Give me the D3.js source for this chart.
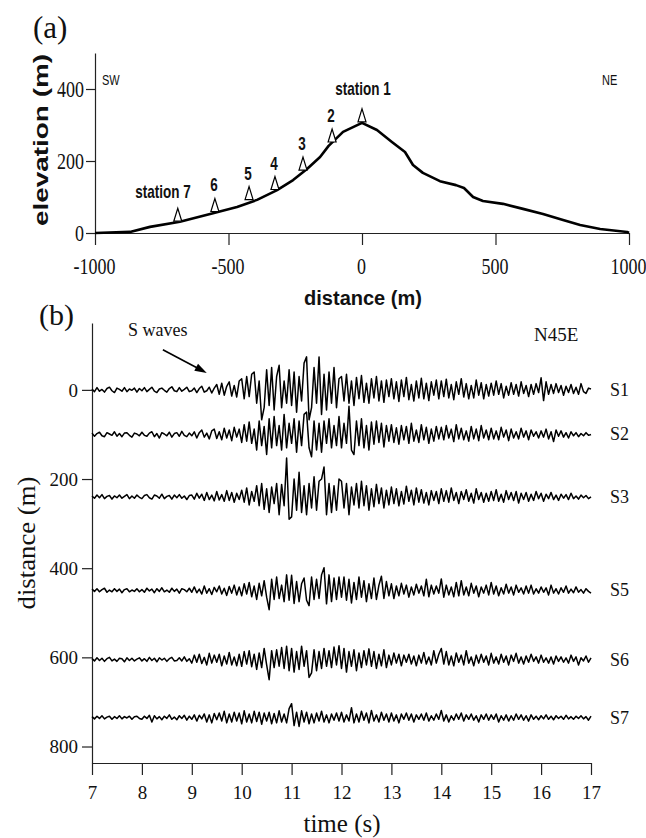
<!DOCTYPE html>
<html><head><meta charset="utf-8">
<script src="https://cdn.jsdelivr.net/npm/d3@7"></script>
<style>body{margin:0;background:#fff} svg{display:block}</style>
</head><body><svg id="c" width="646" height="838"></svg>
<script>
// ---------- panel (a): topographic profile ----------
const profileDist = [-1000,-869,-794,-682,-558,-468,-393,-318,-258,-206,-157,-125,-71,0,56,112,161,191,228,292,352,382,416,453,528,603,678,753,817,892,993,1000];
const profileElev = [0,3,17,31,55,72,92,119,147,178,211,242,281,306,286,253,225,189,167,144,133,125,100,89,81,67,53,36,22,11,3,0];
const stationNames = ["station 1","2","3","4","5","6","station 7"];
const stationDist = [0,-112,-221,-326,-423,-551,-690];
const stationElev = [306,250,172,118,90,57,30];
const elevTicks = [0,200,400];
const distTicks = [-1000,-500,0,500,1000];

// ---------- panel (b): seismograms (N45E) ----------
const traceNames = ["S1","S2","S3","S5","S6","S7"];
const traceOffsets = [0,100,240,450,605,735];
const timeStart = 7, timeStep = 0.05;
const timeTicks = [7,8,9,10,11,12,13,14,15,16,17];
const offsetTicks = [0,200,400,600,800];

const s1 = [2,-4,5,-3,1,-5,3,6,-2,-6,4,1,-3,5,-4,2,-1,4,-5,3,
 -2,5,-4,1,6,-3,-6,2,4,-1,-5,3,7,-2,-4,5,-3,1,6,-4,
 -2,4,-6,3,8,-5,-2,6,-7,4,12,-10,15,-12,8,18,-14,10,-16,20,
 25,-20,30,-15,35,40,-30,20,-67,-40,45,-35,50,-45,30,55,-40,20,-30,45,
 -35,40,-50,30,-25,60,74,-67,-40,50,-30,74,-55,35,-45,40,-30,50,-40,25,
 30,-25,35,-30,20,-35,28,-20,32,-28,15,-30,25,-18,30,-25,20,-28,22,-15,
 25,-20,18,-26,22,-15,28,-22,12,-25,20,-18,26,-20,15,-24,18,-12,22,-20,
 20,-15,24,-18,12,-22,18,-10,25,-16,14,-20,10,-18,22,-12,16,-20,12,-14,
 15,-12,20,-10,14,-18,8,-12,16,-10,12,-14,18,-8,10,-15,12,-10,14,-6,
 27,-24,18,-10,12,-8,14,-6,10,-12,8,-6,12,-8,6,-10,14,-4,-8,4,
 2];
const s2 = [3,-4,2,5,-3,-5,4,1,-2,6,-4,2,-5,3,4,-2,-6,3,1,-3,
 5,-2,-4,3,6,-5,2,-8,4,1,-3,5,-6,2,4,-4,7,-2,-5,3,
 -3,6,-8,4,10,-6,3,-10,8,12,-9,6,-12,14,-8,10,-14,16,-6,12,
 -18,22,-15,28,-20,12,-35,30,-25,18,-45,35,-30,40,-25,20,-35,45,-30,25,
 -20,35,-40,30,-25,45,50,-30,-50,30,-35,25,-40,30,-20,35,-30,20,-25,40,
 -30,25,-20,63,-35,-45,30,-25,35,-30,20,-35,28,-22,30,-18,25,-28,20,-15,
 22,-18,15,-22,20,-12,18,-20,25,-15,10,-18,22,-12,16,-20,12,-15,18,-10,
 16,-12,20,-8,12,-16,22,-10,14,-12,8,-15,18,-10,12,-14,20,-8,10,-12,
 14,-10,8,-12,16,-6,10,-14,12,-8,6,-10,14,-6,8,-12,10,-4,6,-8,
 8,-6,12,-10,6,-16,10,-4,8,-6,4,-8,6,-3,4,-5,2,-3,4,-2,
 0];
const s3 = [2,-3,4,-2,5,-4,1,3,-5,2,-2,4,-3,1,5,-4,2,-3,4,-1,
 -4,3,5,-2,-5,4,2,-3,6,-4,1,3,-5,4,-2,5,-3,2,-6,3,
 4,-5,8,-3,6,-8,10,-6,4,-9,12,-7,5,-10,14,-8,10,-12,8,-6,
 15,-12,20,-18,12,-10,25,-20,30,-28,18,-35,22,-15,30,-40,28,-20,87,-50,
 -45,40,-30,55,-35,25,-40,30,-25,45,-30,35,40,67,-40,30,-35,25,-30,40,
 35,-25,30,-40,22,-18,30,-25,35,-20,25,-30,18,-22,28,-15,20,-25,15,-18,
 22,-15,18,-20,12,-16,24,-10,15,-18,20,-12,16,-14,10,-18,14,-8,12,-15,
 18,-10,14,-12,20,-8,10,-15,12,-6,16,-10,8,-14,18,-6,10,-12,8,-10,
 12,-8,16,-10,6,-12,14,-6,10,-8,12,-14,8,-6,10,-10,6,-8,12,-4,
 8,-10,6,-4,10,-6,4,-8,6,-3,5,-6,8,-4,2,-5,4,-2,3,-4,
 0];
const s5 = [3,-2,4,-3,2,5,-4,1,-3,4,-2,3,-5,2,4,-3,1,-2,4,-3,
 2,-4,5,-1,3,-5,4,-2,6,-3,1,-4,5,-2,3,-6,4,2,-3,5,
 -4,8,-5,3,-8,10,-6,4,-9,7,-3,10,-8,5,-11,9,-6,12,-10,8,
 -12,15,-8,18,-14,10,-20,16,-12,22,-15,-43,25,-20,30,-18,12,-25,35,-22,
 34,-29,20,-25,15,28,-22,-34,30,-20,25,-18,35,51,-30,35,-25,28,-20,30,
 -15,30,-22,25,-28,18,-20,30,-15,22,-25,15,-18,28,-20,12,32,-18,20,-12,
 15,-18,10,-12,16,-8,12,-15,8,-10,14,-6,10,-12,25,-14,12,-8,10,-6,
 26,-15,12,-10,8,-14,18,-12,22,-10,8,-12,16,-6,10,-14,8,-6,12,-10,
 18,-8,10,-12,6,-8,14,-6,8,-10,12,-4,6,-8,10,-6,12,-8,4,-6,
 8,-4,6,-10,12,-6,4,-8,6,-4,10,-6,3,-5,8,-4,2,-6,4,-2,
 -6];
const s6 = [2,-3,4,-2,3,-4,2,5,-3,1,-4,3,2,-5,4,-2,3,-3,1,4,
 -3,2,-4,5,-2,3,-5,4,-1,3,-4,2,5,-3,-2,4,-3,6,-4,2,
 -8,10,-6,12,-9,5,-12,14,-8,10,-6,12,-14,8,-10,16,-12,6,-14,12,
 -15,18,-10,20,-16,12,-22,15,-18,25,-12,-45,20,-18,22,-15,27,-20,30,-25,
 25,-28,18,-22,30,-15,20,-40,-30,22,-25,18,-20,25,-15,20,-18,28,-12,31,
 -20,25,-28,18,-15,22,-25,15,-18,20,-12,24,-15,18,-20,12,-14,22,-18,10,
 -12,15,-8,12,-14,10,-6,12,-10,8,-14,10,-8,16,-10,6,-12,20,-8,12,
 25,-10,18,-12,8,-14,15,-6,10,-12,20,-8,6,-14,10,-8,12,-6,8,-12,
 14,-8,6,-10,12,-6,8,-12,10,-4,14,-8,6,-10,8,-6,12,-4,6,-8,
 10,-6,4,-8,6,-10,8,-4,6,-6,4,-8,10,-4,6,-12,4,-3,8,-6,
 4];
const s7 = [2,-3,3,-2,4,-3,1,3,-4,2,-2,4,-3,2,-1,3,-4,2,3,-2,
 -4,3,-2,5,-10,4,-3,2,-5,3,-2,6,-4,1,-5,4,-2,5,-6,3,
 -4,6,-8,5,-3,8,-10,6,-12,9,-5,10,-8,14,-12,8,-10,12,-8,10,
 -14,15,-10,8,-12,14,-9,12,-15,10,-8,12,-14,9,-12,15,-10,8,-12,20,
 31,-18,12,-20,15,-10,12,-14,8,-12,10,-8,14,-10,6,-12,8,-6,10,-8,
 12,-10,6,-8,22,-12,8,-10,14,-6,10,-12,16,-8,6,-10,12,-6,8,-10,
 10,-8,6,-12,8,-4,10,-6,8,-10,6,-4,8,-6,10,-8,4,-6,8,-4,
 16,-8,6,-10,4,-6,8,-4,10,-8,6,-4,8,-6,4,-10,6,-4,8,-6,
 6,-4,8,-10,4,-6,6,-8,4,-6,8,-4,6,-6,4,-8,6,-4,3,-5,
 4,-3,6,-4,3,-5,4,-2,3,-4,5,-3,2,-4,3,-2,4,-3,2,-6,
 3];
const traces = [s1,s2,s3,s5,s6,s7];

// ---------- drawing ----------
const SERIF = "'Liberation Serif','Times New Roman',serif";
const SANS = "'Liberation Sans',Arial,Helvetica,sans-serif";
const INK = "#111";
const plain = d => String(d);   // ASCII hyphen for negatives, as in the original
const svg = d3.select("#c");
svg.append("rect").attr("width",646).attr("height",838).attr("fill","#fff");

function styleAxis(g){
  g.select(".domain").attr("stroke","#222").attr("stroke-width",1.2);
  g.selectAll(".tick line").attr("stroke","#222").attr("stroke-width",1.2);
  g.selectAll(".tick text").attr("fill",INK).attr("font-family",SERIF);
}
function stretchedText(parent, x, y, str, size, sy, opts={}){
  return parent.append("text")
    .attr("transform",`translate(${x},${y}) scale(1,${sy})`)
    .attr("font-family", opts.family || SANS)
    .attr("font-weight", opts.weight || "bold")
    .attr("font-size", size)
    .attr("text-anchor", opts.anchor || "middle")
    .attr("fill", INK)
    .text(str);
}

// ---- Panel (a)
const xa = d3.scaleLinear([-1000,1000],[95,629]);
const ya = d3.scaleLinear([0,500],[233,53]);
const ga = svg.append("g");

const yAxA = ga.append("g").attr("transform",`translate(${xa(-1000)},0)`)
  .call(d3.axisLeft(ya).tickValues(elevTicks).tickSize(9).tickSizeOuter(0).tickFormat(plain));
styleAxis(yAxA);
yAxA.selectAll(".tick text").attr("x",null).attr("dy",null).attr("font-size",18)
  .attr("transform","translate(-11,7) scale(1,1.25)");

const xAxA = ga.append("g").attr("transform",`translate(0,${ya(0)})`)
  .call(d3.axisBottom(xa).tickValues(distTicks).tickSize(12).tickSizeOuter(0).tickFormat(plain));
styleAxis(xAxA);
xAxA.selectAll(".tick text").attr("y",null).attr("dy",null).attr("font-size",18)
  .attr("transform","translate(-1,41) scale(1,1.25)");

ga.append("path")
  .attr("d", d3.line().x((d,i)=>xa(profileDist[i])).y(d=>ya(d))(profileElev))
  .attr("fill","none").attr("stroke","#000").attr("stroke-width",2.6).attr("stroke-linejoin","round");

stationNames.forEach((name,i)=>{
  const cx = xa(stationDist[i]), by = ya(stationElev[i]) - 1;
  ga.append("path")
    .attr("d",`M${cx-4},${by}L${cx},${by-13}L${cx+4},${by}Z`)
    .attr("fill","#fff").attr("stroke","#000").attr("stroke-width",1.2);
  if (name === "station 1") {
    stretchedText(ga, cx+1, by-27, name, 13.5, 1.35);
  } else if (name.startsWith("station")) {
    stretchedText(ga, cx+13, by-23, name, 13.5, 1.35, {anchor:"end"});
  } else {
    stretchedText(ga, cx-1, by-20, name, 13.5, 1.35);
  }
});

stretchedText(ga, xa(-1000)+7, 85, "SW", 11, 1.35, {anchor:"start", weight:"normal"});
stretchedText(ga, xa(1000)-27, 85, "NE", 11, 1.35, {anchor:"start", weight:"normal"});

ga.append("text").attr("transform","translate(48,140) rotate(-90)")
  .attr("font-family",SANS).attr("font-weight","bold").attr("font-size",20)
  .attr("text-anchor","middle").attr("fill",INK)
  .attr("textLength",172).attr("lengthAdjust","spacingAndGlyphs")
  .text("elevation (m)");
ga.append("text").attr("x",xa(0)+1).attr("y",305)
  .attr("font-family",SANS).attr("font-weight","bold").attr("font-size",20)
  .attr("text-anchor","middle").attr("fill",INK).text("distance (m)");
ga.append("text").attr("x",33).attr("y",38).attr("font-family",SERIF)
  .attr("font-size",31).attr("fill",INK).text("(a)");

// ---- Panel (b)
const xb = d3.scaleLinear([7,17],[92,591]);
const yb = d3.scaleLinear([-150,837],[323,763]);
const gb = svg.append("g");

const yAxB = gb.append("g").attr("transform",`translate(${xb(7)},0)`)
  .call(d3.axisLeft(yb).tickValues(offsetTicks).tickSize(10).tickSizeOuter(0).tickPadding(4).tickFormat(plain));
styleAxis(yAxB);
yAxB.selectAll(".tick text").attr("font-size",19).attr("dy","0.34em");

const xAxB = gb.append("g").attr("transform",`translate(0,${yb(837)})`)
  .call(d3.axisBottom(xb).tickValues(timeTicks).tickSize(12).tickSizeOuter(0).tickFormat(plain));
styleAxis(xAxB);
xAxB.selectAll(".tick text").attr("font-size",19).attr("dy",null).attr("y",36);

const traceLine = (off)=> d3.line()
  .x((v,i)=>xb(timeStart + i*timeStep))
  .y(v=>yb(off - v));

traces.forEach((tr,k)=>{
  gb.append("path").attr("d", traceLine(traceOffsets[k])(tr))
    .attr("fill","none").attr("stroke","#000").attr("stroke-width",1.5)
    .attr("stroke-linejoin","round");
  gb.append("text").attr("x", xb(17)+19).attr("y", yb(traceOffsets[k])+6)
    .attr("font-family",SERIF).attr("font-size",18).attr("fill",INK).text(traceNames[k]);
});

// annotations
gb.append("text").attr("x",xb(7.72)).attr("y",yb(-120)).attr("font-family",SERIF)
  .attr("font-size",18).attr("fill",INK).text("S waves");
const a0 = [xb(8.42), yb(-90)], a1 = [xb(9.30), yb(-38)];
gb.append("line").attr("x1",a0[0]).attr("y1",a0[1])
  .attr("x2",a1[0]-(a1[0]-a0[0])*0.15).attr("y2",a1[1]-(a1[1]-a0[1])*0.15)
  .attr("stroke","#000").attr("stroke-width",1.6);
{
  const ang = Math.atan2(a1[1]-a0[1], a1[0]-a0[0]);
  const L = 12, Wd = 4;
  const bx = a1[0]-L*Math.cos(ang), by = a1[1]-L*Math.sin(ang);
  const px = -Math.sin(ang)*Wd, py = Math.cos(ang)*Wd;
  gb.append("path").attr("d",`M${a1[0]},${a1[1]}L${bx+px},${by+py}L${bx-px},${by-py}Z`).attr("fill","#000");
}
gb.append("text").attr("x",xb(15.86)).attr("y",yb(-110)).attr("font-family",SERIF)
  .attr("font-size",19).attr("fill",INK).text("N45E");

gb.append("text").attr("transform","translate(35,543) rotate(-90)")
  .attr("font-family",SERIF).attr("font-size",25).attr("text-anchor","middle").attr("fill",INK)
  .attr("textLength",133).attr("lengthAdjust","spacingAndGlyphs").text("distance (m)");
gb.append("text").attr("x",342).attr("y",832).attr("font-family",SERIF)
  .attr("font-size",25).attr("text-anchor","middle").attr("fill",INK).text("time (s)");
gb.append("text").attr("x",39).attr("y",325).attr("font-family",SERIF)
  .attr("font-size",30).attr("fill",INK).text("(b)");
</script></body></html>
